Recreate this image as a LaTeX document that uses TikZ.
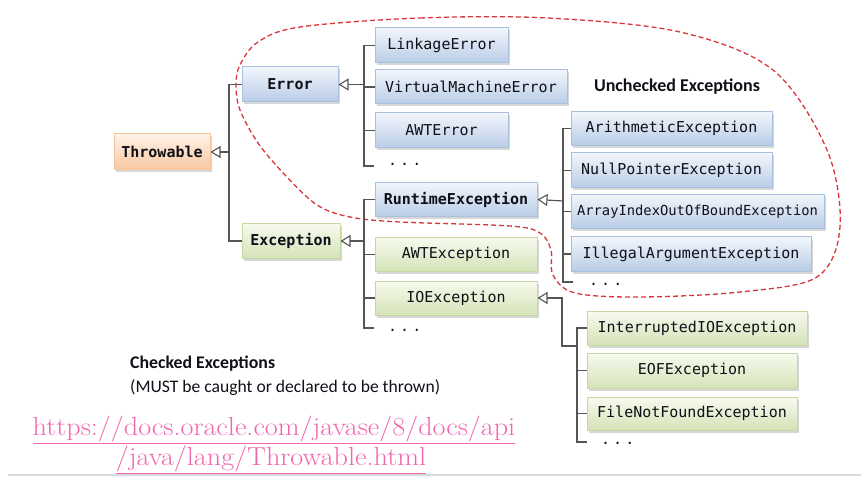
\documentclass[tikz,border=0pt]{standalone}
\usepackage{fontspec}
\setmainfont{Carlito}
\setmonofont{DejaVu Sans Mono}
\newfontfamily\urlfont{Latin Modern Roman}
\usetikzlibrary{arrows.meta,shadows}
\definecolor{lnc}{HTML}{555555}
\definecolor{bluetop}{HTML}{F2F6FC}
\definecolor{bluebot}{HTML}{B8CCE6}
\definecolor{blueedge}{HTML}{A9C0DE}
\definecolor{greentop}{HTML}{F7FAEE}
\definecolor{greenbot}{HTML}{D5E3B8}
\definecolor{greenedge}{HTML}{C6D9A0}
\definecolor{orangetop}{HTML}{FEF2E8}
\definecolor{orangebot}{HTML}{F9C7A0}
\definecolor{orangeedge}{HTML}{F6C49A}
\definecolor{dashred}{HTML}{D8363C}
\definecolor{linkpink}{HTML}{F266AE}
\definecolor{txt}{HTML}{101018}
\tikzset{
  box/.style={rectangle, inner sep=0pt, minimum height=34pt, line width=1pt,
    font=\ttfamily\fontsize{15}{18}\selectfont, text=txt,
    drop shadow={shadow xshift=2pt, shadow yshift=-2.5pt, opacity=0.35, fill=black!45}},
  bluebox/.style={box, draw=blueedge, top color=bluetop, bottom color=bluebot},
  greenbox/.style={box, draw=greenedge, top color=greentop, bottom color=greenbot},
  orangebox/.style={box, draw=orangeedge, top color=orangetop, bottom color=orangebot},
  bold/.style={font=\ttfamily\bfseries\fontsize{15}{18}\selectfont},
  conn/.style={draw=lnc, line width=1.2pt},
  inherit/.style={conn, -{Triangle[open, length=10pt, width=12pt, line width=1.1pt]}},
  dots/.style={anchor=base west, inner sep=0pt, font=\ttfamily\fontsize{15}{18}\selectfont, text=txt},
  label/.style={text=txt, inner sep=0pt},
  urltext/.style={anchor=base, inner sep=0pt, text=linkpink, font=\urlfont\fontsize{26}{28}\selectfont},
}
\begin{document}
\begin{tikzpicture}[x=1pt, y=-1pt]
\useasboundingbox (0,0) rectangle (861,478);

% dashed region (unchecked exceptions)
\draw[dashred, line width=1.3pt, dash pattern=on 5pt off 3pt]
  plot[smooth cycle, tension=0.55] coordinates {
  (300,27) (420,18) (548,18) (680,32) (773,70) (827,150) (840,227) (817,277)
  (740,292) (640,297) (575,293) (553,275) (551,250) (540,233) (510,226)
  (400,222) (350,217) (317,205) (285,175) (258,143) (240,110) (236,85)
  (240,65) (258,42)};

% nodes
\node[orangebox, bold, minimum width=96pt, minimum height=36pt] (throwable) at (162,152) {Throwable};
\node[bluebox, bold, minimum width=96pt, minimum height=35pt] (error) at (290,84.5) {Error};
\node[greenbox, bold, minimum width=98pt] (exception) at (291,241) {Exception};

\node[bluebox, minimum width=133pt, minimum height=35pt] (linkage) at (441.5,45.5) {LinkageError};
\node[bluebox, minimum width=192pt] (vme) at (471,87) {VirtualMachineError};
\node[bluebox, minimum width=133pt, minimum height=35pt] (awterror) at (441.5,130.5) {AWTError};

\node[bluebox, bold, minimum width=162pt] (runtime) at (456,199.5) {RuntimeException};
\node[greenbox, minimum width=162pt] (awtexc) at (456,254.5) {AWTException};
\node[greenbox, minimum width=162pt] (ioexc) at (456,298) {IOException};

\node[bluebox, minimum width=201pt] (arith) at (671.5,128.5) {ArithmeticException};
\node[bluebox, minimum width=201pt, minimum height=35pt] (nullp) at (671.5,170.5) {NullPointerException};
\node[bluebox, minimum width=253pt, font=\ttfamily\fontsize{13.8}{16}\selectfont] (arrayidx) at (697.5,211.5) {ArrayIndexOutOfBoundException};
\node[bluebox, minimum width=240pt] (illegal) at (691,254) {IllegalArgumentException};

\node[greenbox, minimum width=220pt] (interrupted) at (697,328) {InterruptedIOException};
\node[greenbox, minimum width=210pt, minimum height=35pt] (eof) at (692,370.5) {EOFException};
\node[greenbox, minimum width=210pt, minimum height=33pt] (fnf) at (692,413.5) {FileNotFoundException};

% trunk coordinates and free ends
\coordinate (tt) at (229,152);
\coordinate (et) at (364,84.5);
\coordinate (ed) at (374,166);
\coordinate (xt) at (364,241);
\coordinate (xd) at (374,328);
\coordinate (rt) at (563,201);
\coordinate (rd) at (573,282);
\coordinate (ib) at (562,298);
\coordinate (ij) at (577,346);
\coordinate (id) at (587,442);

% dots
\node[dots] (edots) at (388,166) {.\hspace{3pt}.\hspace{3pt}.};
\node[dots] (xdots) at (388,331) {.\hspace{3pt}.\hspace{3pt}.};
\node[dots] (rdots) at (589,285) {.\hspace{3pt}.\hspace{3pt}.};
\node[dots] (idots) at (601,444) {.\hspace{3pt}.\hspace{3pt}.};

% Throwable
\draw[conn] (error.west) -| (tt) |- (exception.west);
\draw[inherit] (tt) -- (throwable.east);

% Error
\draw[conn] (linkage.west) -| (et) |- (ed);
\draw[conn] (vme.west) -- (vme.west -| et);
\draw[conn] (awterror.west) -- (awterror.west -| et);
\draw[inherit] (et) -- (error.east);

% Exception
\draw[conn] (runtime.west) -| (xt) |- (xd);
\draw[conn] (awtexc.west) -- (awtexc.west -| xt);
\draw[conn] (ioexc.west) -- (ioexc.west -| xt);
\draw[inherit] (xt) -- (exception.east);

% RuntimeException
\draw[conn] (arith.west) -| (rt) |- (rd);
\draw[conn] (nullp.west) -- (nullp.west -| rt);
\draw[conn] (arrayidx.west) -- (arrayidx.west -| rt);
\draw[conn] (illegal.west) -- (illegal.west -| rt);
\draw[inherit] (rt) -- (runtime.east);

% IOException
\draw[conn] (interrupted.west) -| (ij) |- (id);
\draw[conn] (eof.west) -- (eof.west -| ij);
\draw[conn] (fnf.west) -- (fnf.west -| ij);
\draw[inherit] (ij) -| (ib) -- (ioexc.east);

% labels
\node[label, anchor=base, font=\bfseries\fontsize{18}{20}\selectfont] (unchecked) at (677,92) {Unchecked Exceptions};
\node[label, anchor=base west, font=\bfseries\fontsize{17.8}{20}\selectfont] (checked) at (130,368) {Checked Exceptions};
\node[label, anchor=base west, font=\fontsize{17.6}{20}\selectfont] (checkednote) at (130,392) {(MUST be caught or declared to be thrown)};

\node[urltext] (url1) at (274,435)
  {\scalebox{1.085}[1]{\underline{https://docs.oracle.com/javase/8/docs/api}}};
\node[urltext] (url2) at (271,465)
  {\scalebox{1.085}[1]{\underline{/java/lang/Throwable.html}}};

% bottom rule
\draw[black!15, line width=1.5pt] (8,475) -- (861,475);
\end{tikzpicture}
\end{document}
